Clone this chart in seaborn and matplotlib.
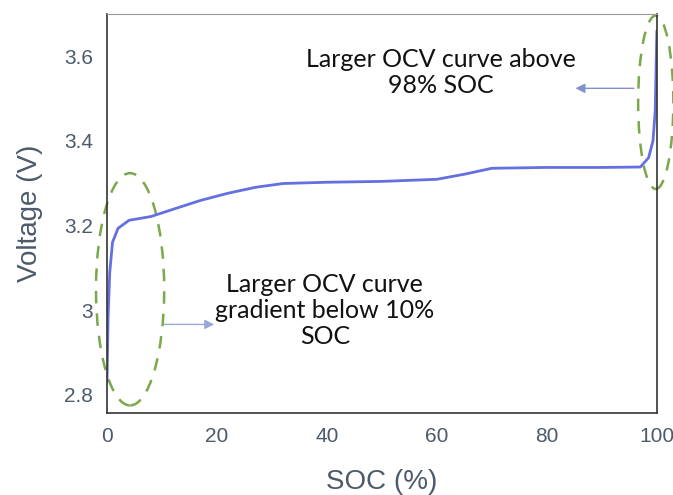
import numpy as np
import pandas as pd
import seaborn as sns
import matplotlib.pyplot as plt
from matplotlib.patches import Ellipse

# OCV curve
soc = [0, 0.2, 0.5, 1.0, 2.0, 4.0, 8.0, 12, 17, 22, 27, 32, 40, 50, 60, 65, 70, 80, 90, 97, 98.5, 99.3, 99.7, 100]
voltage = [2.83, 2.985, 3.089, 3.16, 3.193, 3.212, 3.221, 3.238, 3.259, 3.276, 3.290, 3.299, 3.302, 3.304, 3.309,
           3.321, 3.335, 3.337, 3.337, 3.338, 3.36, 3.40, 3.47, 3.66]

x_ticks = [0, 20, 40, 60, 80, 100]
y_ticks = [2.8, 3.0, 3.2, 3.4, 3.6]
y_tick_labels = ["2.8", "3", "3.2", "3.4", "3.6"]

df = pd.DataFrame({"SOC": soc, "Voltage": voltage})

sns.set_style("white")
plt.rcParams['font.family'] = ['Liberation Sans', 'DejaVu Sans']

fig = plt.figure(figsize=(6.73, 4.95), dpi=100)
ax = fig.add_axes([0.159, 0.166, 0.817, 0.806])

sns.lineplot(data=df, x="SOC", y="Voltage", ax=ax, color="#6470e0", linewidth=2)

ax.set_xlim(0, 100)
ax.set_ylim(2.757, 3.70)
ax.set_xticks(x_ticks)
ax.set_yticks(y_ticks)
ax.set_yticklabels(y_tick_labels)
ax.tick_params(labelsize=15, colors="#4d5a6b", length=0, pad=10)
ax.set_xlabel("SOC (%)", fontsize=20, color="#4d5a6b", labelpad=17)
ax.set_ylabel("Voltage (V)", fontsize=20, color="#4d5a6b", labelpad=15)

for s in ["left", "bottom", "right"]:
    ax.spines[s].set_color("#333333")
    ax.spines[s].set_linewidth(1.2)
ax.spines["top"].set_color("#999999")

# dashed ellipses
green = "#7aa84a"
ax.add_patch(Ellipse((4.2, 3.049), 12.4, 0.549, fill=False, edgecolor=green,
                     linestyle=(0, (5, 4)), linewidth=1.8, clip_on=False))
ax.add_patch(Ellipse((99.8, 3.491), 6.4, 0.41, fill=False, edgecolor=green,
                     linestyle=(0, (5, 4)), linewidth=1.8, clip_on=False))

# arrows
ax.annotate("", xy=(19.5, 2.966), xytext=(10.4, 2.966),
            arrowprops=dict(arrowstyle="-|>", color="#9aa8d8", lw=1, mutation_scale=14,
                            shrinkA=0, shrinkB=0))
ax.annotate("", xy=(85.2, 3.524), xytext=(95.8, 3.524),
            arrowprops=dict(arrowstyle="-|>", color="#8090d0", lw=1, mutation_scale=14,
                            shrinkA=0, shrinkB=0))

ax.text(39.6, 2.999, "Larger OCV curve\ngradient below 10%\nSOC", ha="center", va="center",
        fontsize=18, family=["Lato", "DejaVu Sans"], color="#111111", linespacing=1.15)
ax.text(60.8, 3.562, "Larger OCV curve above\n98% SOC", ha="center", va="center",
        fontsize=18, family=["Lato", "DejaVu Sans"], color="#111111", linespacing=1.15)

plt.savefig("out.png", dpi=100)
